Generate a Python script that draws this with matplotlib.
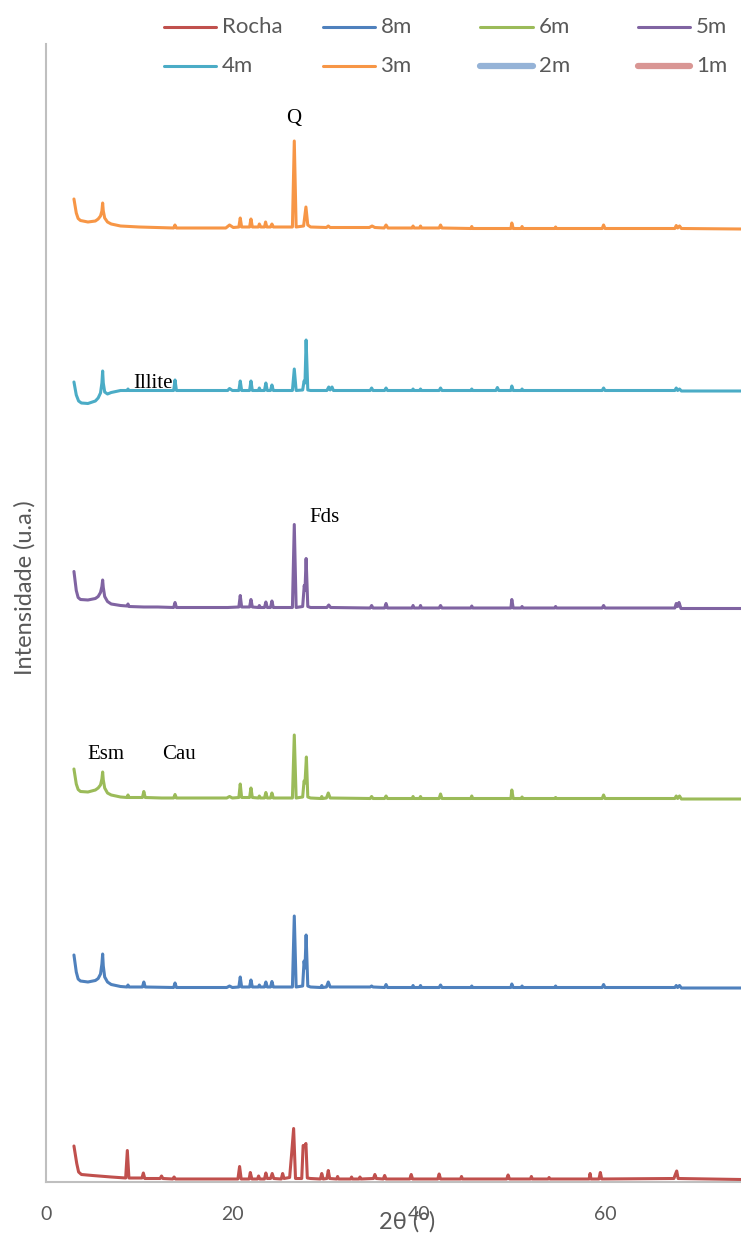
import matplotlib
matplotlib.use("Agg")
import matplotlib.pyplot as plt
from matplotlib.lines import Line2D
import numpy as np

# ---------------------------------------------------------------------------
# Diffractograms (2theta in degrees, intensity in arbitrary units above the
# local baseline of each trace).  Traces are stacked with a vertical offset.
# ---------------------------------------------------------------------------
rocha = [(3.0, 33.5), (3.3, 16), (3.5, 7.5), (3.8, 5), (5.0, 4), (7.0, 2.5), (8.55, 1.5),
         (8.73, 29), (8.9, 1.5),
         (10.3, 1.5), (10.45, 6.5), (10.6, 1), (12.25, 1), (12.4, 3.5), (12.55, 1), (13.6, 0.5),
         (13.75, 2.5), (13.9, 0.5), (17.5, 0.5), (20.6, 0.5), (20.78, 13), (20.95, 0.5), (21.8, 0.5),
         (21.93, 7), (22.1, 0.5), (22.7, 0.5), (22.82, 3.5), (22.95, 0.5), (23.45, 0.5), (23.6, 6.5),
         (23.75, 1), (24.1, 1), (24.28, 6), (24.45, 1), (25.25, 0.5), (25.4, 6), (25.55, 1),
         (26.15, 2), (26.35, 24), (26.58, 51), (26.78, 1), (27.45, 1), (27.6, 34), (27.75, 33),
         (27.9, 36), (28.05, 1.5), (28.4, 1), (29.45, 0.5), (29.6, 6), (29.75, 0.5), (30.15, 1),
         (30.3, 9), (30.45, 1), (31.2, 0.5), (31.3, 3), (31.4, 0.5), (32.7, 0.5), (32.8, 2.5),
         (32.9, 0.5), (33.6, 0.5), (33.7, 2.5), (33.8, 0.5), (35.15, 1), (35.3, 5), (35.45, 1),
         (36.2, 0.5), (36.35, 4), (36.5, 0.5), (39.05, 0.5), (39.2, 5), (39.35, 0.5), (42.05, 0.5),
         (42.2, 5.5), (42.35, 0.5), (44.5, 0.5), (44.6, 3), (44.7, 0.5), (49.45, 0.5), (49.6, 4.5),
         (49.75, 0.5), (52.0, 0.5), (52.1, 3), (52.2, 0.5), (53.9, 0.5), (54.0, 2), (54.1, 0.5),
         (58.3, 0.5), (58.4, 6), (58.5, 0.5), (59.35, 0.5), (59.5, 7), (59.65, 0.5), (67.4, 1),
         (67.55, 5), (67.7, 8.5), (67.85, 1), (74.6, 0)]

m8 = [(3.0, 33), (3.25, 16), (3.45, 9), (3.7, 7), (4.5, 6), (5.3, 7.5), (5.6, 9.5), (5.85, 14),
      (6.0, 24), (6.08, 34), (6.15, 22), (6.3, 11), (6.6, 6), (7.0, 3.5), (8.0, 1.5), (8.7, 1),
      (8.8, 3), (8.9, 1), (10.35, 1), (10.5, 6), (10.65, 1),
      (13.7, 0.5), (13.85, 5), (14.0, 0.5), (19.4, 0.5), (19.7, 2), (20.0, 0.5), (20.7, 1), (20.85, 11),
      (21.0, 1), (21.85, 1), (22.0, 8), (22.15, 1), (22.8, 1), (22.9, 3), (23.0, 1), (23.45, 1),
      (23.6, 6), (23.75, 1), (24.1, 1), (24.25, 6.5), (24.4, 1), (26.45, 1), (26.65, 72), (26.85, 1),
      (27.55, 2), (27.7, 27), (27.8, 20), (27.92, 53), (28.1, 2), (28.4, 1), (29.5, 0.5), (29.6, 2.5),
      (29.7, 0.5), (30.1, 1), (30.3, 6), (30.5, 1), (34.8, 1), (34.95, 2), (35.1, 1), (36.35, 0.5),
      (36.5, 3.5), (36.65, 0.5), (39.3, 0.5), (39.4, 2.5), (39.5, 0.5), (40.1, 0.5), (40.2, 2.5),
      (40.3, 0.5), (42.2, 0.5), (42.35, 3), (42.5, 0.5), (45.6, 0.5), (45.7, 2), (45.8, 0.5),
      (49.9, 0.5), (50.0, 4), (50.15, 0.5), (51.0, 0.5), (51.1, 2), (51.2, 0.5), (54.6, 0.5),
      (54.7, 2), (54.8, 0.5), (59.7, 0.5), (59.85, 3.5), (60.0, 0.5), (67.5, 0.5), (67.65, 2.5),
      (67.8, 0.5), (68.0, 2.5), (68.2, 0), (74.6, 0)]

m6 = [(3.0, 30), (3.25, 15), (3.45, 9.5), (3.7, 7.5), (4.5, 7), (5.3, 9), (5.6, 11), (5.85, 14),
      (6.0, 20), (6.08, 27), (6.15, 19), (6.3, 11), (6.6, 6), (7.0, 4), (8.0, 2), (8.7, 1.5),
      (8.8, 4), (8.9, 1.5), (10.35, 1.5), (10.5, 7.5),
      (10.65, 1.5), (12.4, 1), (13.7, 1), (13.85, 4.5), (14.0, 1), (17.5, 1), (19.4, 1), (19.7, 2.5),
      (20.0, 1), (20.7, 1.5), (20.85, 15), (21.0, 1.5), (21.85, 1.5), (22.0, 11), (22.15, 1.5),
      (22.8, 1), (22.9, 3), (23.0, 1), (23.45, 1), (23.6, 6.5), (23.75, 1), (24.1, 1), (24.25, 6),
      (24.4, 1), (26.45, 1), (26.65, 64), (26.85, 1), (27.55, 2), (27.7, 18), (27.8, 16), (27.95, 42),
      (28.1, 2), (28.4, 1), (29.5, 0.5), (29.6, 2.5), (29.7, 0.5), (30.1, 1), (30.3, 6), (30.5, 1),
      (34.8, 0.5), (34.95, 2.5), (35.1, 0.5), (36.35, 0.5), (36.5, 3), (36.65, 0.5), (39.3, 0.5),
      (39.4, 2.5), (39.5, 0.5), (40.1, 0.5), (40.2, 2.5), (40.3, 0.5), (42.2, 0.5), (42.35, 5),
      (42.5, 0.5), (45.6, 0.5), (45.7, 3), (45.8, 0.5), (49.9, 0.5), (50.0, 9), (50.15, 0.5),
      (51.0, 0.5), (51.1, 2), (51.2, 0.5), (54.6, 0.5), (54.7, 1.5), (54.8, 0.5), (59.7, 0.5),
      (59.85, 4), (60.0, 0.5), (67.5, 0.5), (67.65, 3), (67.8, 0.5), (68.0, 3), (68.2, 0), (74.6, 0)]

m5 = [(3.0, 37), (3.25, 18), (3.45, 11), (3.7, 9), (4.5, 8.5), (5.3, 10), (5.6, 12), (5.85, 16),
      (6.0, 22), (6.08, 28.5), (6.15, 21), (6.3, 12), (6.6, 7), (7.0, 4.5), (8.0, 3), (8.7, 2.5),
      (8.8, 4.5), (8.9, 2), (10.5, 1.5), (12.0, 1.5),
      (13.7, 1), (13.85, 6), (14.0, 1), (17.5, 1), (19.5, 1), (20.7, 1.5), (20.85, 13), (21.0, 1.5),
      (21.85, 1.5), (22.0, 9), (22.15, 1.5), (22.8, 1), (22.9, 3), (23.0, 1), (23.45, 1), (23.6, 6.5),
      (23.75, 1), (24.1, 1), (24.25, 7.5), (24.4, 1), (26.45, 1), (26.65, 84), (26.85, 1), (27.55, 2),
      (27.72, 23), (27.8, 18), (27.92, 50), (28.1, 2), (28.4, 1), (30.15, 1), (30.35, 3.5),
      (30.55, 1), (34.8, 0.5), (34.95, 3), (35.1, 0.5), (36.35, 0.5), (36.5, 5), (36.65, 0.5),
      (39.3, 0.5), (39.4, 3), (39.5, 0.5), (40.1, 0.5), (40.2, 3), (40.3, 0.5), (42.2, 0.5),
      (42.35, 3), (42.5, 0.5), (45.6, 0.5), (45.7, 2.5), (45.8, 0.5), (49.9, 0.5), (50.0, 9),
      (50.15, 0.5), (51.0, 0.5), (51.1, 2), (51.2, 0.5), (54.6, 0.5), (54.7, 2), (54.8, 0.5),
      (59.7, 0.5), (59.85, 3), (60.0, 0.5), (67.5, 0.5), (67.65, 5), (67.8, 2), (67.95, 6),
      (68.15, 0), (74.6, 0)]

m4 = [(3.0, 9), (3.25, -4), (3.5, -10), (3.8, -12), (4.5, -12.5), (5.3, -10), (5.6, -7),
      (5.85, -2), (6.0, 8), (6.08, 20), (6.15, 8), (6.3, -1), (6.6, -3), (7.0, -1.5), (8.0, 0.5),
      (8.7, 0.5), (8.8, 2), (8.9, 0.5), (12.0, 0.5), (13.7, 0.5),
      (13.85, 11), (14.0, 0.5), (17.5, 0.5), (19.5, 0.5), (19.7, 2.5), (20.0, 0.5), (20.7, 0.5),
      (20.85, 10), (21.0, 0.5), (21.85, 0.5), (22.0, 10), (22.15, 0.5), (22.8, 0.5), (22.9, 3),
      (23.0, 0.5), (23.45, 0.5), (23.6, 8), (23.75, 0.5), (24.1, 0.5), (24.25, 6), (24.4, 0.5),
      (26.45, 0.5), (26.65, 22), (26.85, 0.5), (27.55, 1), (27.7, 10), (27.8, 8), (27.92, 51),
      (28.1, 1), (28.4, 0.5), (30.15, 0.5), (30.35, 4), (30.5, 1), (30.7, 4), (30.85, 0.5),
      (34.8, 0.5), (34.95, 3), (35.1, 0.5), (36.35, 0.5), (36.5, 3), (36.65, 0.5), (39.3, 0.5),
      (39.4, 2), (39.5, 0.5), (40.1, 0.5), (40.2, 2), (40.3, 0.5), (42.2, 0.5), (42.35, 3),
      (42.5, 0.5), (45.6, 0.5), (45.7, 2), (45.8, 0.5), (48.3, 0.5), (48.45, 3.5), (48.6, 0.5),
      (49.9, 0.5), (50.0, 5), (50.15, 0.5), (51.0, 0.5), (51.1, 2), (51.2, 0.5), (59.7, 0.5),
      (59.85, 3), (60.0, 0.5), (67.5, 0.5), (67.65, 3), (67.8, 0.5), (68.0, 2), (68.2, 0), (74.6, 0)]

m3 = [(3.0, 30), (3.25, 16), (3.45, 10.5), (3.7, 8.5), (4.5, 7), (5.3, 8), (5.6, 10), (5.85, 13),
      (6.0, 18), (6.08, 26), (6.15, 18), (6.3, 11), (6.6, 7), (7.0, 5), (8.0, 3), (10.0, 2),
      (13.7, 1), (13.84, 4), (14.0, 1), (17.0, 1),
      (19.3, 1), (19.7, 4), (20.1, 1.5), (20.7, 2), (20.85, 11), (21.0, 2), (21.85, 2), (22.0, 10),
      (22.15, 2), (22.8, 2), (22.9, 5), (23.05, 2), (23.45, 2), (23.57, 7), (23.7, 2), (24.1, 2),
      (24.25, 5), (24.4, 2), (26.45, 2), (26.65, 88), (26.85, 2), (27.65, 3), (27.9, 22), (28.1, 4),
      (28.4, 2), (30.1, 1.5), (30.3, 3), (30.5, 1.5), (34.7, 1.5), (35.0, 3), (35.3, 1.5),
      (36.3, 1), (36.5, 4), (36.7, 1), (39.3, 1), (39.4, 3), (39.5, 1), (40.1, 1), (40.2, 3),
      (40.3, 1), (42.2, 1), (42.35, 4), (42.5, 1), (45.6, 0.5), (45.7, 2.5), (45.8, 0.5),
      (49.9, 0.5), (50.0, 6), (50.15, 0.5), (51.0, 0.5), (51.1, 2.5), (51.2, 0.5), (54.6, 0.5),
      (54.7, 2), (54.8, 0.5), (59.7, 0.5), (59.85, 4), (60.0, 0.5), (67.5, 0.5), (67.65, 3.5),
      (67.8, 1), (68.0, 3), (68.2, 0.5), (74.6, 0)]

series_labels = ["Rocha", "8m", "6m", "5m", "4m", "3m", "2m", "1m"]
series_data = [rocha, m8, m6, m5, m4, m3, None, None]
series_offsets = [2.5, 194, 383, 573.5, 791, 953, None, None]
series_colors = ["#C0504D", "#4F81BD", "#9BBB59", "#8064A2", "#4BACC6", "#F79646",
                 "#95B3D7", "#D99694"]
series_widths = [2.2, 2.2, 2.2, 2.2, 2.2, 2.2, 4.5, 4.5]

phase_labels = ["Q", "Illite", "Fds", "Esm", "Cau"]
phase_x = [26.6, 9.35, 28.3, 4.4, 12.5]
phase_y = [1059, 794, 660, 423, 423]
phase_ha = ["center", "left", "left", "left", "left"]

x_ticks = [0, 20, 40, 60]

# ---------------------------------------------------------------------------
W, H, DPI = 741, 1236, 100
fig = plt.figure(figsize=(W / DPI, H / DPI), dpi=DPI)
fig.patch.set_facecolor("white")


def fx(px):
    return px / W


def fy(py):
    return 1 - py / H


ax = fig.add_axes([fx(46), fy(1182), (W - 46) / W, (1182 - 44) / H])
ax.set_xlim(0, 74.6)
ax.set_ylim(0, 1138)

for data, off, col, lw in zip(series_data, series_offsets, series_colors, series_widths):
    if data is None:
        continue
    tt, cc = zip(*data)
    ax.plot(tt, np.asarray(cc) + off, color=col, lw=lw, solid_joinstyle="round",
            solid_capstyle="round", clip_on=False)

for lab, x, y, ha in zip(phase_labels, phase_x, phase_y, phase_ha):
    ax.text(x, y, lab, ha=ha, va="baseline", fontsize=15,
            family="Liberation Serif", color="black")

grey = "#595959"
for s in ["top", "right"]:
    ax.spines[s].set_visible(False)
for s in ["left", "bottom"]:
    ax.spines[s].set_color("#BFBFBF")
    ax.spines[s].set_linewidth(1.5)
ax.set_yticks([])
ax.set_xticks(x_ticks)
ax.set_xticklabels([str(t) for t in x_ticks], fontsize=14, color=grey, family="Lato")
ax.tick_params(axis="x", length=0, pad=17)

fig.text(fx(407), fy(1222), "2θ (°)", ha="center", va="center", fontsize=17,
         color=grey, family=["Lato", "DejaVu Sans"])
fig.text(fx(25), fy(588), "Intensidade (u.a.)", ha="center", va="center", rotation=90,
         fontsize=17, color=grey, family="Lato")

# Legend: four fixed-width columns, two rows
col_x = [164, 322.5, 480.5, 638]
row_y = [26.7, 65.7]
for i, (lab, col, lw) in enumerate(zip(series_labels, series_colors, series_widths)):
    x0 = col_x[i % 4]
    y0 = row_y[i // 4]
    fig.add_artist(Line2D([fx(x0), fx(x0 + 52)], [fy(y0), fy(y0)], transform=fig.transFigure,
                          color=col, lw=lw, solid_capstyle="round"))
    fig.text(fx(x0 + 58), fy(y0), lab, ha="left", va="center", fontsize=16,
             color=grey, family="Lato")

fig.savefig("out.png", dpi=DPI)
